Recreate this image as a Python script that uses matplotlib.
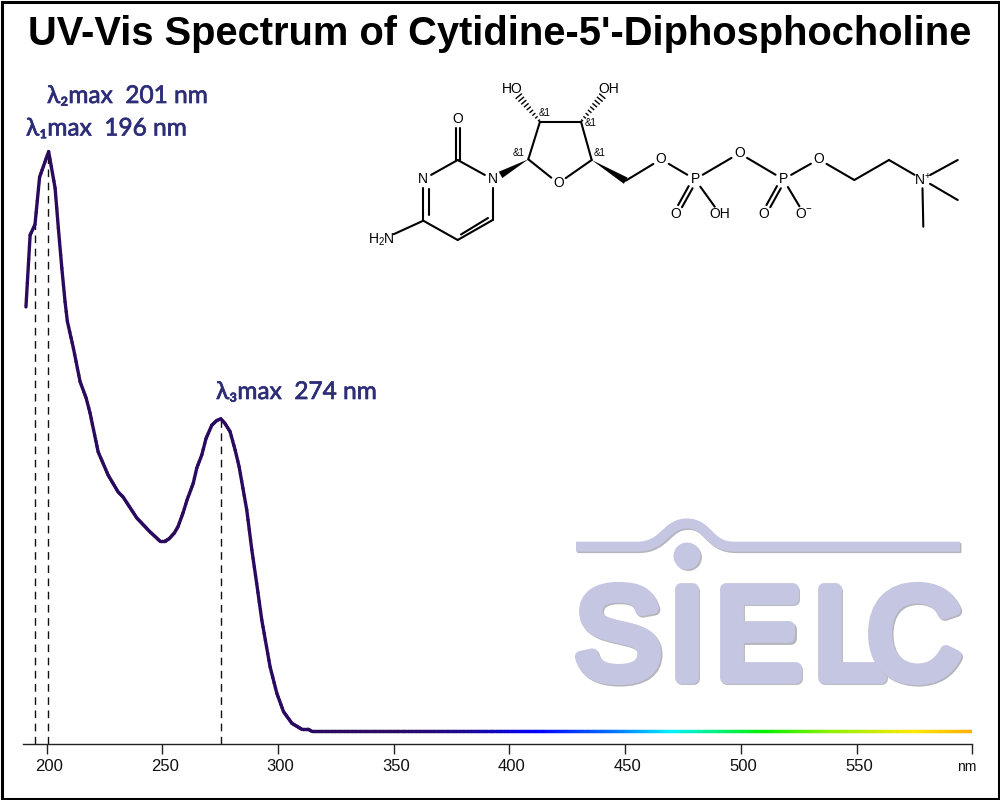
import numpy as np
import matplotlib
matplotlib.use('Agg')
import matplotlib.pyplot as plt
import matplotlib.patheffects as pe
from matplotlib.collections import LineCollection
from matplotlib.patches import Circle, PathPatch, Polygon, Rectangle
from matplotlib.path import Path
from matplotlib.colors import LinearSegmentedColormap

# spectrum (absorbance scaled so the top peak is 1)
wavelength = [191.1, 192.9, 195.0, 197.0, 200.9, 203.7, 205.1, 206.6, 208.0, 209.0,
              211.6, 214.5, 217.1, 218.8, 222.3, 226.6, 230.9, 233.1, 239.0, 244.7,
              246.9, 249.0, 251.2, 252.9, 255.2, 256.8, 259.0, 260.7, 263.4, 264.9,
              267.1, 268.9, 271.4, 273.5, 275.3, 277.1, 279.3, 281.5, 283.2, 286.5,
              288.7, 290.8, 293.0, 296.6, 299.5, 302.4, 306.0, 310.3, 313.1, 314.6,
              340, 370, 400, 430, 460, 490, 520, 550, 580, 600]
absorbance = [0.732, 0.856, 0.874, 0.956, 1.0, 0.937, 0.868, 0.799, 0.741, 0.707,
              0.661, 0.603, 0.575, 0.549, 0.482, 0.442, 0.413, 0.404, 0.368, 0.344,
              0.336, 0.328, 0.328, 0.332, 0.342, 0.353, 0.377, 0.399, 0.428, 0.454,
              0.477, 0.505, 0.528, 0.536, 0.539, 0.531, 0.517, 0.485, 0.4565, 0.382,
              0.313, 0.255, 0.192, 0.111, 0.0656, 0.0338, 0.0138, 0.0035, 0.0035, 0.0,
              0.0, 0.0, 0.0, 0.0, 0.0, 0.0, 0.0, 0.0, 0.0, 0.0]

peak_x = [195.0, 200.5, 275.3]
peak_y = [0.874, 1.0, 0.539]
peak_labels = ['λ₁max  196 nm', 'λ₂max  201 nm', 'λ₃max  274 nm']

tick_values = [200, 250, 300, 350, 400, 450, 500, 550, 600]
tick_labels = ['200', '250', '300', '350', '400', '450', '500', '550', 'nm']

title = "UV-Vis Spectrum of Cytidine-5'-Diphosphocholine"
logo_text = 'SIELC'

# colour along the wavelength axis
color_nm = [190, 350, 380, 413, 445, 470, 510, 540, 576, 600]
color_hex = ['#2a0a5c', '#2a0a62', '#1c0890', '#0000ff', '#0070ff', '#00f0ff',
             '#00f000', '#90f000', '#ffe800', '#ffb000']

# molecule, in pixels of the picture
atoms = {'C4': (423.3, 220.7), 'N3': (423.3, 179.3), 'C2': (457.7, 160), 'O2': (457.7, 119.3),
         'N1': (492.7, 179.3), 'C6': (492.7, 220), 'C5': (457.7, 240), 'NH2': (381, 240),
         'C1p': (528.3, 159.3), 'O4p': (558.3, 183.3), 'C4p': (591.7, 160), 'C3p': (581, 121.7),
         'C2p': (540, 121.7), 'CH2': (625.7, 180.7), 'O5p': (661, 159.3), 'P1': (695, 179.3),
         'O1': (675.7, 214), 'OH1': (720, 214), 'Ob': (739.3, 153.3), 'P2': (783.3, 179.3),
         'O3': (764, 214), 'O4': (804, 214), 'O6': (818.7, 159.3), 'C7': (854.3, 180),
         'C8': (889, 160), 'Np': (922.3, 179.3), 'M1': (957.7, 160), 'M2': (957.7, 200),
         'M3': (923.3, 226.7), 'HO': (512.7, 89), 'OH': (608.3, 89)}
single_bonds = [('C4', 'N3'), ('N3', 'C2'), ('C2', 'N1'), ('N1', 'C6'), ('C5', 'C4'), ('C6', 'C5'),
                ('C4', 'NH2'), ('C1p', 'O4p'), ('O4p', 'C4p'), ('C4p', 'C3p'), ('C3p', 'C2p'),
                ('C2p', 'C1p'), ('CH2', 'O5p'), ('O5p', 'P1'), ('P1', 'OH1'), ('P1', 'Ob'),
                ('Ob', 'P2'), ('P2', 'O4'), ('P2', 'O6'), ('O6', 'C7'), ('C7', 'C8'), ('C8', 'Np'),
                ('Np', 'M1'), ('Np', 'M2'), ('Np', 'M3')]
labelled = {'N3': 'N', 'O2': 'O', 'N1': 'N', 'NH2': 'H$_2$N', 'O4p': 'O', 'O5p': 'O', 'P1': 'P',
            'O1': 'O', 'OH1': 'OH', 'Ob': 'O', 'P2': 'P', 'O3': 'O', 'O4': 'O$^{-}$', 'O6': 'O',
            'Np': 'N$^{+}$', 'HO': 'HO', 'OH': 'OH'}
stereo_marks = [(545, 112.7), (591, 123.3), (518.3, 152.7), (600, 152.7)]

logo_color = '#c5c6e1'
shadow_color = '#b4b4bc'
logo_x = [618, 687, 758, 849, 914]
logo_base = 678

plt.rcParams['font.family'] = ['Liberation Sans', 'DejaVu Sans']
plt.rcParams['mathtext.fontset'] = 'custom'
plt.rcParams['mathtext.rm'] = 'Liberation Sans'
plt.rcParams['mathtext.default'] = 'rm'

fig = plt.figure(figsize=(10, 8), dpi=100)

# overlay in picture pixels, for the logo, the molecule and the frame
over = fig.add_axes([0, 0, 1, 1], zorder=0)
over.set_xlim(0, 1000)
over.set_ylim(800, 0)
over.axis('off')

# logo
wave = Path([(576, 546.7), (637, 546.7), (665, 546.7), (665, 523.5), (687, 523.5),
             (709, 523.5), (707, 546.7), (735, 546.7), (960, 546.7)],
            [Path.MOVETO, Path.LINETO, Path.CURVE4, Path.CURVE4, Path.CURVE4, Path.CURVE4,
             Path.CURVE4, Path.CURVE4, Path.LINETO])
over.add_patch(PathPatch(wave, fill=False, edgecolor=logo_color, linewidth=7.2, capstyle='butt',
                         path_effects=[pe.Stroke(linewidth=7.2, foreground=shadow_color, offset=(1, -1)),
                                       pe.Normal()]))
over.add_patch(Circle((687, 556), 13.5, facecolor=logo_color, edgecolor='none',
                      path_effects=[pe.withSimplePatchShadow(offset=(1, -1), shadow_rgbFace=shadow_color, alpha=1)]))
letter_fx = [pe.Stroke(linewidth=8.5, foreground=shadow_color, offset=(1, -1)),
             pe.Stroke(linewidth=8.5, foreground=logo_color), pe.Normal()]
for letter, x in zip(logo_text, logo_x):
    over.text(x, logo_base, letter, family='Liberation Sans', fontsize=93, color=logo_color,
              ha='center', va='baseline', path_effects=letter_fx)


def trimmed(a, b):
    p, q = np.array(atoms[a]), np.array(atoms[b])
    u = (q - p) / np.linalg.norm(q - p)
    if a in labelled:
        p = p + u * (14 if a == 'NH2' else 9)
    if b in labelled:
        q = q - u * (14 if b == 'NH2' else 9)
    return p, q, np.array([-u[1], u[0]])


# molecule
bond_kw = dict(color='black', lw=1.5, solid_capstyle='round')
for a, b in single_bonds:
    p, q, _ = trimmed(a, b)
    over.plot([p[0], q[0]], [p[1], q[1]], **bond_kw)
for a, b, offs in [('C2', 'O2', (-2.2, 2.2)), ('P1', 'O1', (-2.2, 2.2)), ('P2', 'O3', (-2.2, 2.2))]:
    p, q, n = trimmed(a, b)
    for d in offs:
        over.plot([p[0] + n[0] * d, q[0] + n[0] * d], [p[1] + n[1] * d, q[1] + n[1] * d], **bond_kw)
# inner lines of the ring double bonds
over.plot([428.5, 428.5], [189, 215], **bond_kw)
over.plot([461, 488], [234.5, 218], **bond_kw)
# wedges
for tip, end in [('C1p', 'N1'), ('C4p', 'CH2')]:
    p, q = np.array(atoms[tip]), np.array(atoms[end])
    u = (q - p) / np.linalg.norm(q - p)
    n = np.array([-u[1], u[0]])
    stop = q - u * (9 if end == 'N1' else 0)
    over.add_patch(Polygon([p, stop + n * 3.6, stop - n * 3.6], closed=True, facecolor='black', edgecolor='none'))
# hashed bonds
for start, end in [('C2p', 'HO'), ('C3p', 'OH')]:
    p, q = np.array(atoms[start]), np.array(atoms[end])
    u = (q - p) / np.linalg.norm(q - p)
    n = np.array([-u[1], u[0]])
    for f in np.linspace(0.04, 0.78, 9):
        c = p + (q - p) * f
        h = 0.4 + 3.8 * f
        over.plot([c[0] - n[0] * h, c[0] + n[0] * h], [c[1] - n[1] * h, c[1] + n[1] * h], color='black', lw=1.0)
for key, lab in labelled.items():
    over.text(atoms[key][0], atoms[key][1], lab, fontsize=10, ha='center', va='center', color='black')
for x, y in stereo_marks:
    over.text(x, y, '&1', fontsize=7, ha='center', va='center', color='black')

# frame round the picture
over.add_patch(Rectangle((1.5, 1.5), 997, 797, fill=False, edgecolor='black', linewidth=2.2))

# the spectrum itself
ax = fig.add_axes([0.0234, 1 - 743.7 / 800, 0.9489, (743.7 - 60) / 800], zorder=1)
ax.patch.set_alpha(0)
ax.set_xlim(190, 600)
ax.set_ylim(-0.0214, 1.158)
for side in ['top', 'left', 'right']:
    ax.spines[side].set_visible(False)
ax.spines['bottom'].set_linewidth(1.0)
ax.spines['bottom'].set_color('#222222')
ax.set_yticks([])
ax.set_xticks(tick_values)
ax.set_xticklabels(tick_labels, fontsize=12, color='#111111')
ax.tick_params(axis='x', length=7.5, width=1.0, color='#222222', pad=3.5)
shift = matplotlib.transforms.ScaledTranslation(2.5 / 100, 0, fig.dpi_scale_trans)
for lab in ax.get_xticklabels():
    lab.set_transform(lab.get_transform() + shift)
nm_label = ax.get_xticklabels()[-1]
nm_label.set_fontsize(10)
nm_label.set_transform(nm_label.get_transform() + matplotlib.transforms.ScaledTranslation(-8 / 100, -1.5 / 100, fig.dpi_scale_trans))

for x, y in zip(peak_x, peak_y):
    ax.plot([x, x], [-0.0214, y], color='#111111', lw=1.0, dashes=(5.5, 4))

# colour the line along wavelength: each stretch is split only for the gradient
cmap = LinearSegmentedColormap.from_list('spec', [((n - 190) / 410, c) for n, c in zip(color_nm, color_hex)])
segs = []
seg_colors = []
for i in range(len(wavelength) - 1):
    steps = max(int((wavelength[i + 1] - wavelength[i]) * 2), 1)
    xs = np.linspace(wavelength[i], wavelength[i + 1], steps + 1)
    ys = np.linspace(absorbance[i], absorbance[i + 1], steps + 1)
    for j in range(steps):
        segs.append([(xs[j], ys[j]), (xs[j + 1], ys[j + 1])])
        seg_colors.append(cmap(((xs[j] + xs[j + 1]) / 2 - 190) / 410))
ax.add_collection(LineCollection(segs, colors=seg_colors, linewidths=2.4, capstyle='round', zorder=3))

# peak labels and title
label_font = ['Lato', 'DejaVu Sans']
label_color = '#2e2e78'
over2 = fig.add_axes([0, 0, 1, 1], zorder=2)
over2.set_xlim(0, 1000)
over2.set_ylim(800, 0)
over2.axis('off')
label_fx = [pe.Stroke(linewidth=0.5, foreground=label_color), pe.Normal()]
for lab, x, y in zip(peak_labels, [26, 47, 216], [135.5, 103, 399]):
    over2.text(x, y, lab, family=label_font, fontsize=17.6, color=label_color, ha='left', va='baseline',
               path_effects=label_fx)
over2.text(500, 45, title, fontsize=28.7, fontweight='bold', color='black', ha='center', va='baseline')

fig.savefig('out.png', dpi=100)
